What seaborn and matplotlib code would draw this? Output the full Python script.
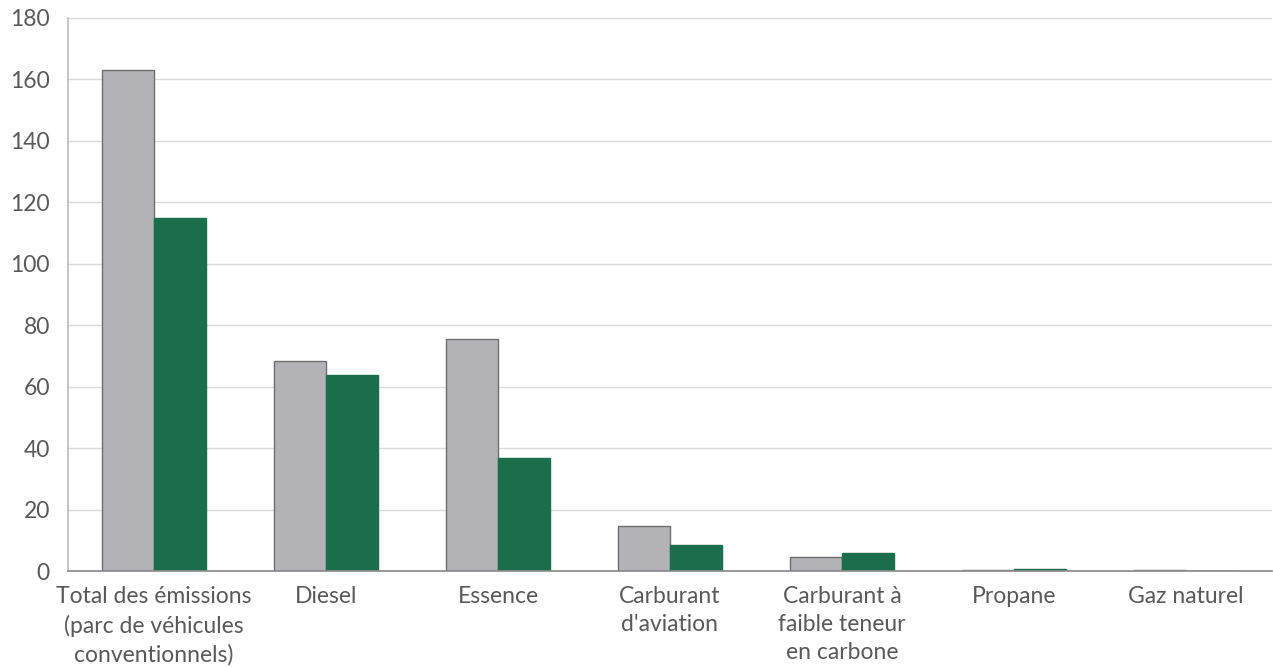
import matplotlib
matplotlib.use("Agg")
import matplotlib.pyplot as plt
import seaborn as sns
import pandas as pd

categories = ["Total des émissions\n(parc de véhicules\nconventionnels)", "Diesel", "Essence",
              "Carburant\nd'aviation", "Carburant à\nfaible teneur\nen carbone", "Propane", "Gaz naturel"]
series_a = [163, 68.2, 75.6, 14.7, 4.6, 0.2, 0.3]
series_b = [115, 63.7, 36.9, 8.4, 5.9, 0.5, 0.1]
series_names = ["A", "B"]
yticks = [0, 20, 40, 60, 80, 100, 120, 140, 160, 180]

df = pd.DataFrame({
    "cat": categories * 2,
    "val": series_a + series_b,
    "serie": [series_names[0]] * len(categories) + [series_names[1]] * len(categories),
})

sns.set_theme(style="white")
plt.rcParams['font.family'] = ['Lato', 'DejaVu Sans']

fig = plt.figure(figsize=(12.73, 6.67), dpi=100)
ax = fig.add_axes([68/1273, 1-571/667, (1272-68)/1273, (571-18)/667])

gray = "#b3b3b7"
green = "#1a6e4c"
sns.barplot(data=df, x="cat", y="val", hue="serie", palette=[gray, green],
            width=0.6, ax=ax, legend=False, saturation=1)
for i, p in enumerate(ax.patches):
    if i < len(categories):
        p.set_edgecolor("#6e6e6e")
    else:
        p.set_edgecolor(green)
    p.set_linewidth(1.0)

ax.set_ylim(0, 180)
ax.set_xlim(-0.5, len(categories) - 0.5)
ax.set_yticks(yticks)
ax.yaxis.grid(True, color="#d9d9d9", linewidth=1)
ax.set_axisbelow(True)
ax.set_xlabel("")
ax.set_ylabel("")
for s in ["top", "right"]:
    ax.spines[s].set_visible(False)
ax.spines["left"].set_color("#bfbfbf")
ax.spines["bottom"].set_color("#8c8c8c")
ax.tick_params(axis="both", length=0, colors="#595959", labelsize=16.5)
ax.tick_params(axis="y", pad=13)
ax.tick_params(axis="x", pad=11)
for t in ax.get_xticklabels():
    t.set_linespacing(1.4)

fig.savefig("out.png", dpi=100)
